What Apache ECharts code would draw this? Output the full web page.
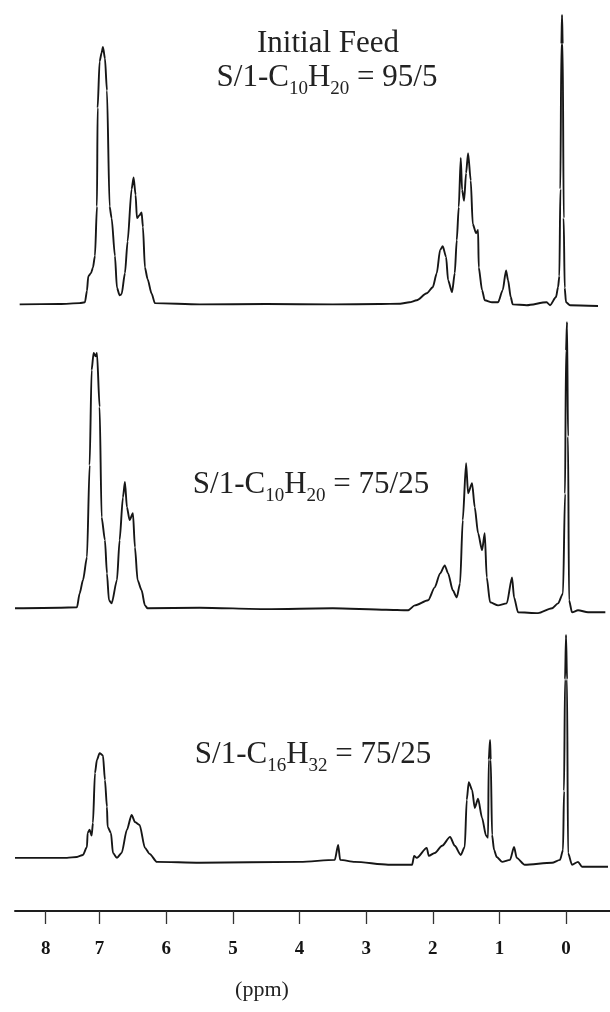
<!DOCTYPE html>
<html>
<head>
<meta charset="utf-8">
<script src="https://cdn.jsdelivr.net/npm/echarts@6/dist/echarts.min.js"></script>
<style>
html,body{margin:0;padding:0;background:#fff;}
#chart{width:610px;height:1012px;}
</style>
</head>
<body>
<div id="chart"></div>
<script>
// Chemical shift (ppm) vs relative intensity (% of tallest peak in each trace)
const spectrumFeed95 = [
  [8.20,0.3],[7.60,0.4],[7.30,0.7],[7.22,1],[7.19,5],[7.17,10],[7.13,11],[7.10,13],[7.07,17],[7.04,34],
  [7.03,68],[7.00,84],[6.97,87],[6.95,89],[6.92,85],[6.89,74],[6.85,34],[6.82,30],[6.77,17],[6.74,6],
  [6.70,3.4],[6.67,3.8],[6.62,11],[6.58,22],[6.52,40],[6.49,44],[6.46,38],[6.44,30],[6.40,31],[6.37,32],
  [6.35,27],[6.32,13],[6.28,9],[6.22,4],[6.17,0.7],[5.50,0.3],[4.50,0.4],[3.50,0.3],[2.80,0.4],[2.49,0.5],
  [2.35,1],[2.24,1.7],[2.09,4.1],[2.00,6.2],[1.94,11],[1.89,19],[1.85,20.3],[1.80,16.6],[1.77,8.6],[1.71,4.5],
  [1.67,11],[1.64,22.4],[1.61,33.8],[1.58,50.7],[1.56,39.7],[1.53,36],[1.50,45.5],[1.47,52.4],[1.43,43],[1.40,28],
  [1.35,24.8],[1.32,25.9],[1.31,13],[1.26,5.2],[1.22,1.7],[1.11,1],[1.02,1],[0.95,5.2],[0.90,12],[0.87,8.6],
  [0.83,2.8],[0.80,0.3],[0.59,0],[0.29,1],[0.24,0],[0.15,2.8],[0.12,6.2],[0.10,10],[0.085,40],[0.07,90],
  [0.06,100],[0.05,90],[0.035,30],[0.02,6],[0.00,1],[-0.06,0],[-0.48,-0.3]
];
const spectrumC10_75 = [
  [8.27,0],[7.60,0.2],[7.34,0.3],[7.30,5.2],[7.25,9.8],[7.19,17.8],[7.15,50],[7.12,83.2],[7.09,89.2],[7.06,88],
  [7.04,89.2],[7.00,70.3],[6.97,31.8],[6.92,23.8],[6.89,12.2],[6.86,2.8],[6.82,1.7],[6.74,9.8],[6.70,23.8],[6.65,38.8],
  [6.62,44.1],[6.59,35.3],[6.55,30.8],[6.50,33.2],[6.47,21.3],[6.43,9.8],[6.37,6.3],[6.32,1],[6.28,0],[5.50,0.2],
  [4.50,-0.3],[3.50,0],[2.70,-0.5],[2.37,-0.7],[2.27,1],[2.07,2.8],[1.97,7.3],[1.89,12.2],[1.82,15],[1.77,12.2],
  [1.70,6.3],[1.64,3.8],[1.59,8.7],[1.55,30.8],[1.50,50.7],[1.47,40.2],[1.41,43.7],[1.37,35.3],[1.32,26.2],[1.26,20.3],
  [1.22,26.2],[1.19,10.8],[1.14,2.1],[1.02,1],[0.89,1.7],[0.81,10.8],[0.78,3.8],[0.72,-1.4],[0.42,-1.7],[0.21,0],
  [0.12,1.7],[0.045,5.2],[0.015,40],[0.0,90],[-0.015,100],[-0.03,60],[-0.045,2.8],[-0.09,-1.4],[-0.18,-0.7],[-0.33,-1.4],
  [-0.59,-1.4]
];
const spectrumC16_75 = [
  [8.27,0],[7.49,0],[7.34,0.4],[7.25,1.3],[7.19,4.9],[7.18,11.2],[7.15,12.6],[7.12,10],[7.10,15.7],[7.07,38],
  [7.04,44],[7.00,47],[6.95,46],[6.92,35],[6.89,22.9],[6.88,13.9],[6.83,11.2],[6.80,2.2],[6.74,0],[6.67,2.2],
  [6.59,12.6],[6.52,19.3],[6.47,16.1],[6.40,14.8],[6.32,4.5],[6.25,1.8],[6.14,-1.8],[5.50,-2.2],[3.99,-1.8],[3.47,-0.9],
  [3.42,5.8],[3.39,-0.9],[3.17,-1.8],[2.67,-3.1],[2.31,-3.1],[2.28,0.9],[2.24,0],[2.09,4.5],[2.06,0.9],[1.97,2.2],
  [1.86,5.4],[1.74,9.4],[1.67,5.4],[1.58,1.3],[1.52,4.9],[1.49,26],[1.46,34],[1.41,30.5],[1.37,22.4],[1.32,26.5],
  [1.26,17.9],[1.20,9.9],[1.17,9],[1.16,44],[1.14,52.9],[1.13,44],[1.11,10.3],[1.08,3.6],[1.04,0.4],[0.96,-1.8],
  [0.84,-0.9],[0.78,4.9],[0.74,0],[0.62,-3.1],[0.21,-2.2],[0.09,-0.9],[0.045,3.6],[0.03,30],[0.015,80],[0.0,100],
  [-0.015,80],[-0.03,2.2],[-0.09,-3.1],[-0.18,-1.8],[-0.24,-4],[-0.63,-4]
];
const tickValues = [7.81, 7, 6, 5, 4, 3, 2, 1, 0];
const tickLabels = ['8', '7', '6', '5', '4', '3', '2', '1', '0'];
const axisTitle = '(ppm)';

const chart = echarts.init(document.getElementById('chart'), null, {renderer: 'canvas'});
const LINE = '#161616';
const SERIF = '"Liberation Serif", "DejaVu Serif", serif';
const xMin = -0.66, xMax = 8.27;

function xAx(idx, show) {
  return {
    type: 'value', gridIndex: idx, inverse: true, min: xMin, max: xMax,
    show: show, splitLine: {show: false},
    offset: show ? 42 : 0,
    axisLine: {show: show, onZero: false, lineStyle: {color: '#1e1e1e', width: 2}},
    axisTick: {show: show, customValues: tickValues, length: 13, lineStyle: {color: '#333', width: 1.3}},
    axisLabel: {
      show: show, customValues: tickValues, margin: 29,
      fontFamily: SERIF, fontWeight: 'bold', fontSize: 19, color: '#151515',
      formatter: function (v) {
        const i = tickValues.findIndex(t => Math.abs(t - v) < 1e-6);
        return i >= 0 ? tickLabels[i] : '';
      }
    }
  };
}
function yAx(idx, min) {
  return {type: 'value', gridIndex: idx, min: min, max: 100, show: false, splitLine: {show: false}};
}
function ser(idx, data) {
  return {
    type: 'line', xAxisIndex: idx, yAxisIndex: idx, data: data,
    showSymbol: false, symbol: 'none', clip: false,
    smooth: 0.25, smoothMonotone: 'x',
    lineStyle: {color: LINE, width: 1.9, join: 'round'}, z: 3
  };
}
const rich = {
  m: {fontFamily: SERIF, fontSize: 31, color: '#222', lineHeight: 30, verticalAlign: 'top'},
  s: {fontFamily: SERIF, fontSize: 19, color: '#222', lineHeight: 37, verticalAlign: 'bottom'}
};
function label(x, y, text) {
  return {type: 'text', x: x, y: y, z: 10,
    style: {text: text, rich: rich, align: 'center', verticalAlign: 'top', fill: '#222'}};
}

chart.setOption({
  animation: false,
  backgroundColor: '#fff',
  grid: [
    {left: 15, right: 0, top: 15, height: 296},
    {left: 15, right: 0, top: 322, height: 292},
    {left: 15, right: 0, top: 635, height: 234}
  ],
  xAxis: [xAx(0, false), xAx(1, false), xAx(2, true)],
  yAxis: [yAx(0, -2), yAx(1, -2), yAx(2, -5)],
  series: [ser(0, spectrumFeed95), ser(1, spectrumC10_75), ser(2, spectrumC16_75)],
  graphic: [
    {type: 'text', x: 328, y: 44, z: 10,
      style: {text: 'Initial Feed', fontFamily: SERIF, fontSize: 31, fill: '#222', align: 'center', verticalAlign: 'middle'}},
    label(327, 62, '{m|S/1-C}{s|10}{m|H}{s|20}{m| = 95/5}'),
    label(311, 469, '{m|S/1-C}{s|10}{m|H}{s|20}{m| = 75/25}'),
    label(313, 739, '{m|S/1-C}{s|16}{m|H}{s|32}{m| = 75/25}'),
    {type: 'text', x: 262, y: 990, z: 10,
      style: {text: axisTitle, fontFamily: SERIF, fontSize: 22, fill: '#222', align: 'center', verticalAlign: 'middle'}}
  ]
});
</script>
</body>
</html>
